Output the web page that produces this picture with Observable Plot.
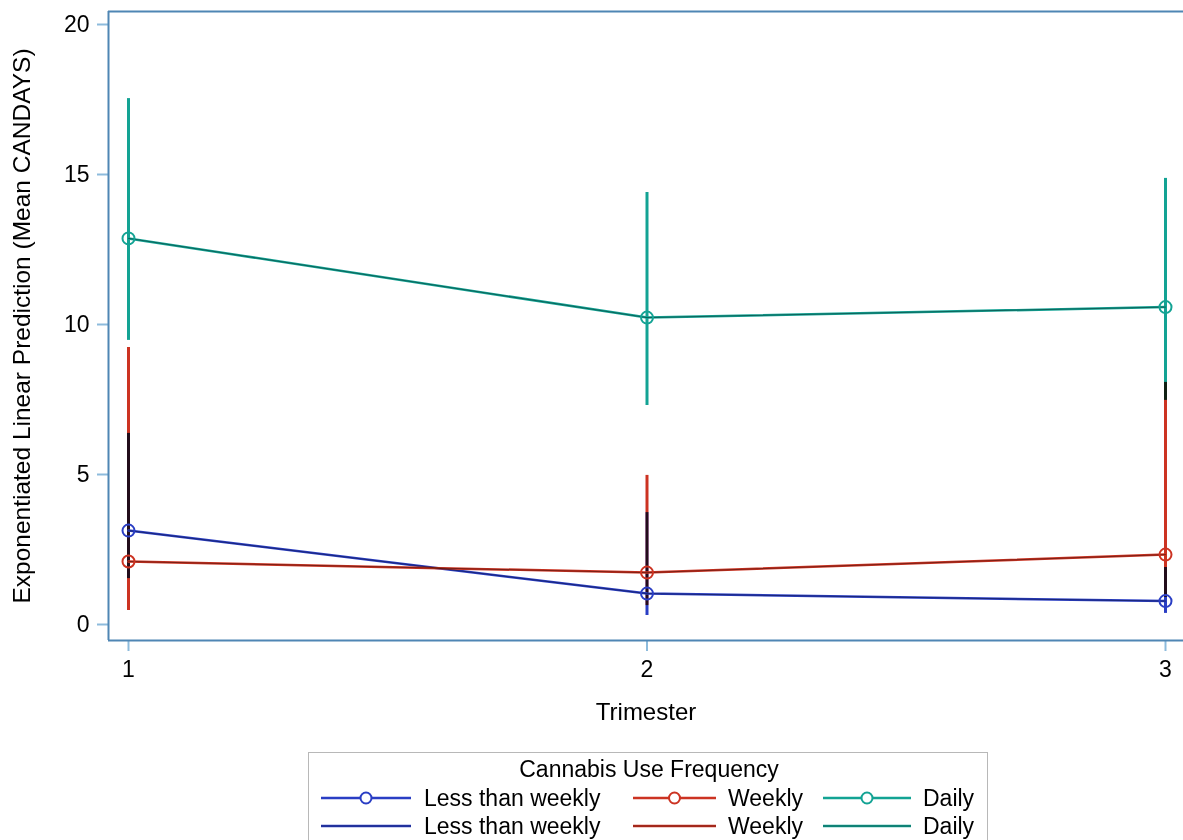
<!DOCTYPE html>
<html>
<head>
<meta charset="utf-8">
<script src="https://cdn.jsdelivr.net/npm/d3@7"></script>
<script src="https://cdn.jsdelivr.net/npm/@observablehq/plot@0.6"></script>
<style>
  body { margin: 0; background: #fff; font-family: "Liberation Sans", Arial, sans-serif; }
  #legend { position: absolute; left: 308px; top: 752px; width: 680px; height: 100px; border: 1.5px solid #b8b8b8; box-sizing: border-box; }
</style>
</head>
<body>
<div id="chart"></div>
<div id="legend"></div>
<script>
const trimesters = [1, 2, 3];
const seriesNames = ["Less than weekly", "Weekly", "Daily"];
const lessMean = [3.13, 1.03, 0.78];
const lessLo   = [1.53, 0.30, 0.37];
const lessHi   = [6.37, 3.73, 1.90];
const weeklyMean = [2.10, 1.73, 2.33];
const weeklyLo   = [0.47, 0.63, 0.90];
const weeklyHi   = [9.23, 4.97, 8.07];
const dailyMean = [12.87, 10.23, 10.58];
const dailyLo   = [9.47, 7.30, 7.47];
const dailyHi   = [17.53, 14.40, 14.87];
const yTicks = [0, 5, 10, 15, 20];
const seriesColors = ["#2a3ec4", "#cc3322", "#13a394"];
const frameColor = "#4f86b4";
const tickColor = "#8dbbdc";
const title = "Cannabis Use Frequency";
const xLabel = "Trimester";
const yLabel = "Exponentiated Linear Prediction (Mean CANDAYS)";

const means = [lessMean, weeklyMean, dailyMean];
const los = [lessLo, weeklyLo, dailyLo];
const his = [lessHi, weeklyHi, dailyHi];
const rows = [];
seriesNames.forEach((s, i) => trimesters.forEach((t, j) => rows.push({series: s, t, mean: means[i][j], lo: los[i][j], hi: his[i][j]})));

const xDom = [1 - 20 / 518.5, 3 + 18 / 518.5];
const yDom = [-16 / 30, 20 + 13 / 30];

const chart = Plot.plot({
  width: 1183,
  height: 745,
  marginLeft: 108,
  marginRight: 0,
  marginTop: 11,
  marginBottom: 105,
  style: {fontFamily: "Liberation Sans, Arial, sans-serif", fontSize: "23px", background: "#fff"},
  x: {domain: xDom, axis: null},
  y: {domain: yDom, axis: null},
  color: {domain: seriesNames, range: seriesColors},
  marks: [
    Plot.axisY({ticks: yTicks, tickSize: 11, tickPadding: 8, stroke: tickColor, strokeWidth: 2, fill: "black", label: null, tickFormat: d => String(d)}),
    Plot.axisX({ticks: trimesters, tickSize: 11, tickPadding: 9, stroke: tickColor, strokeWidth: 2, fill: "black", label: null, tickFormat: d => String(d)}),
    Plot.ruleY([yDom[0], yDom[1]], {stroke: frameColor, strokeWidth: 2}),
    Plot.ruleX([xDom[0]], {stroke: frameColor, strokeWidth: 2}),
    Plot.ruleX(rows, {x: "t", y1: "lo", y2: "hi", stroke: "series", strokeWidth: 3, mixBlendMode: "multiply"}),
    Plot.line(rows, {x: "t", y: "mean", z: "series", stroke: "series", strokeWidth: 2.5}),
    Plot.line(rows, {x: "t", y: "mean", z: "series", stroke: "black", strokeOpacity: 0.4, strokeWidth: 1}),
    Plot.dot(rows, {x: "t", y: "mean", r: 6, stroke: "series", strokeWidth: 2, fill: "none"}),
    Plot.text([xLabel], {frameAnchor: "bottom", dy: 72, lineAnchor: "middle", textAnchor: "middle", fontSize: 24}),
    Plot.text([yLabel], {frameAnchor: "left", rotate: -90, dx: -86, lineAnchor: "middle", textAnchor: "middle", fontSize: 24.5})
  ]
});
document.getElementById("chart").appendChild(chart);

// Legend
const lg = d3.select("#legend").append("svg").attr("width", 680).attr("height", 100)
  .style("font-family", "Liberation Sans, Arial, sans-serif");
lg.append("text").attr("x", 340).attr("y", 16).attr("text-anchor", "middle").attr("dominant-baseline", "central")
  .attr("font-size", 23).text(title);
const swX = [12, 324, 514];
const swW = [90, 83, 88];
const txX = [115, 419, 614];
[45, 73].forEach((ry, row) => {
  seriesNames.forEach((s, i) => {
    lg.append("line").attr("x1", swX[i]).attr("x2", swX[i] + swW[i]).attr("y1", ry).attr("y2", ry)
      .attr("stroke", seriesColors[i]).attr("stroke-width", 2.5);
    if (row === 1) {
      lg.append("line").attr("x1", swX[i]).attr("x2", swX[i] + swW[i]).attr("y1", ry).attr("y2", ry)
        .attr("stroke", "black").attr("stroke-opacity", 0.4).attr("stroke-width", 1);
    } else {
      lg.append("circle").attr("cx", swX[i] + swW[i] / 2).attr("cy", ry).attr("r", 5.5)
        .attr("fill", "white").attr("stroke", seriesColors[i]).attr("stroke-width", 2);
    }
    lg.append("text").attr("x", txX[i]).attr("y", ry).attr("dominant-baseline", "central")
      .attr("font-size", 23).text(s);
  });
});
</script>
</body>
</html>
